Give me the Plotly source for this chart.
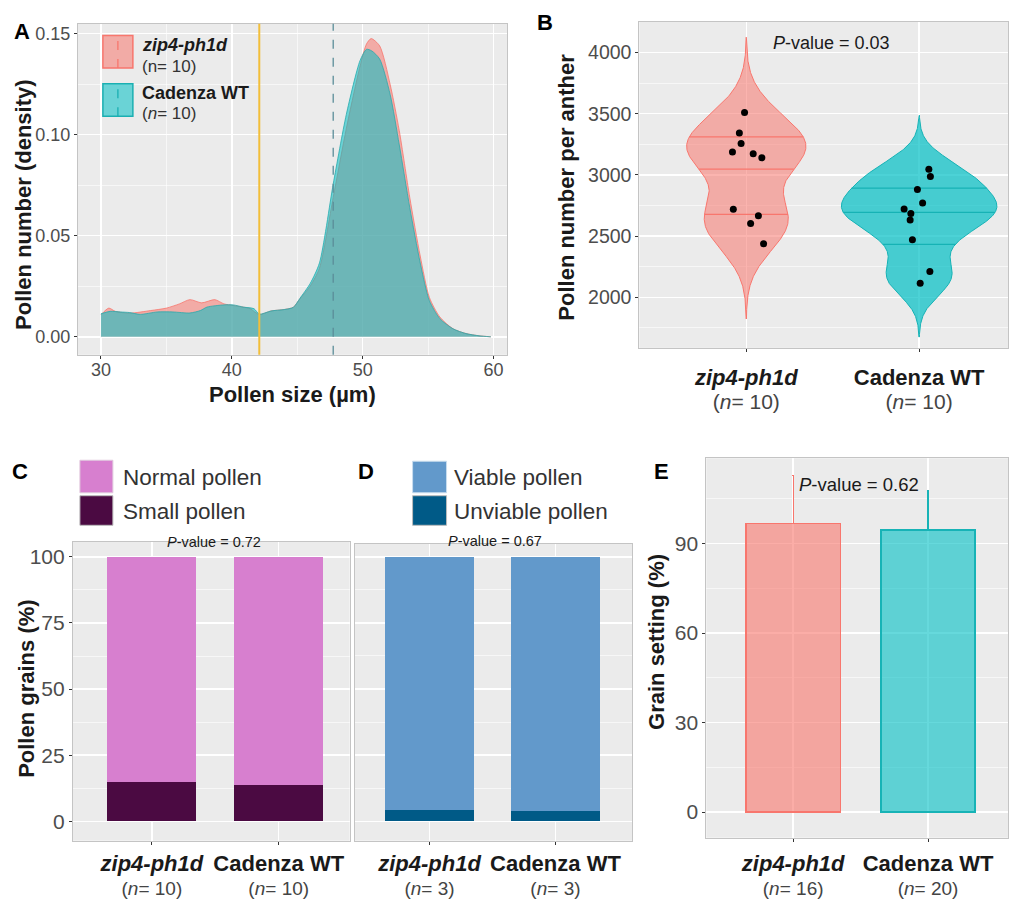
import numpy as np
import plotly.graph_objects as go

# ---------------- data ----------------
GROUPS = ["zip4-ph1d", "Cadenza WT"]

# Panel A: pollen size density curves
RED_X = [30.0, 30.6, 31.1, 32.2, 33.8, 35.0, 36.0, 36.8, 37.7, 38.7, 39.4, 40.1, 41.4, 42.1,
         43.0, 44.0, 44.7, 45.2, 46.0, 46.7, 47.75, 48.75, 49.8, 50.3, 50.65, 51.3, 52.1,
         52.8, 53.6, 54.4, 55.1, 55.9, 56.9, 57.9, 58.9, 59.8]
RED_Y = [0.0109, 0.0142, 0.0126, 0.0117, 0.0130, 0.0142, 0.0163, 0.0184, 0.0168, 0.0184,
         0.0163, 0.0155, 0.0139, 0.0110, 0.0128, 0.0135, 0.0146, 0.0187, 0.0252, 0.0340,
         0.0690, 0.1030, 0.1340, 0.1450, 0.1476, 0.1440, 0.1250, 0.1020, 0.0690, 0.0400,
         0.0195, 0.0098, 0.0040, 0.0016, 0.0005, 0.0]
CYAN_X = [30.0, 30.7, 31.5, 32.2, 33.0, 34.3, 35.5, 36.8, 37.6, 38.1, 39.4, 40.1, 40.9, 41.7,
          42.1, 43.0, 44.0, 44.7, 45.2, 46.0, 46.7, 47.75, 48.75, 49.8, 50.3, 50.7, 51.3,
          52.1, 52.8, 53.6, 54.4, 55.1, 55.9, 56.9, 57.9, 58.9, 59.8]
CYAN_Y = [0.0114, 0.0126, 0.0123, 0.0120, 0.0111, 0.0123, 0.0123, 0.0118, 0.0130, 0.0147,
          0.0158, 0.0158, 0.0147, 0.0139, 0.0112, 0.0128, 0.0135, 0.0146, 0.0190, 0.0265,
          0.0366, 0.0756, 0.1100, 0.1367, 0.1423, 0.1415, 0.1375, 0.1200, 0.0950, 0.0640,
          0.0366, 0.0179, 0.0090, 0.0040, 0.0016, 0.0005, 0.0]
SMALL_CUTOFF = 42.1
MEAN_SIZE = 47.75

# Panel B: pollen number per anther
ZIP4_COUNTS = [3511, 3342, 3256, 3187, 3173, 3141, 2720, 2666, 2604, 2438]
ZIP4_JITTER = [-0.01, -0.04, -0.03, -0.08, 0.04, 0.09, -0.075, 0.07, 0.025, 0.10]
CAD_COUNTS = [3047, 2988, 2881, 2771, 2722, 2685, 2631, 2470, 2212, 2116]
CAD_JITTER = [0.056, 0.065, -0.01, 0.02, -0.087, -0.048, -0.052, -0.039, 0.062, 0.006]
BANDWIDTHS = [205, 147]

# Panel C
SMALL_PCT = [14.9, 13.9]
NORMAL_PCT = [100 - v for v in SMALL_PCT]
# Panel D
UNVIABLE_PCT = [4.3, 3.7]
VIABLE_PCT = [100 - v for v in UNVIABLE_PCT]
# Panel E
GRAIN_MEAN = [96.8, 94.6]
GRAIN_SD = [16.1, 13.0]

N_B = [10, 10]
N_D = [3, 3]
N_E = [16, 20]

# ---------------- helpers ----------------
W, H = 1009, 899
FONT = "Liberation Sans, Arial, sans-serif"


def fx(p):
    return p / W


def fy(p):
    return 1 - p / H


RED = "#F8766D"
CYAN = "#00BFC4"
RED_FILL = "rgba(248,118,109,0.55)"
CYAN_FILL = "rgba(0,191,196,0.55)"

fig = go.Figure()

# ---------------- Panel A ----------------
fig.add_trace(go.Scatter(x=RED_X, y=RED_Y, mode="lines", fill="tozeroy", fillcolor=RED_FILL,
                         line=dict(color=RED, width=0.8, shape="spline", smoothing=0.7),
                         xaxis="x", yaxis="y", showlegend=False, hoverinfo="skip"))
fig.add_trace(go.Scatter(x=CYAN_X, y=CYAN_Y, mode="lines", fill="tozeroy", fillcolor=CYAN_FILL,
                         line=dict(color="#2AA9AC", width=0.8, shape="spline", smoothing=0.7),
                         xaxis="x", yaxis="y", showlegend=False, hoverinfo="skip"))
fig.add_shape(type="line", xref="x", yref="y domain", x0=SMALL_CUTOFF, x1=SMALL_CUTOFF, y0=0, y1=1,
              line=dict(color="#F2BE3A", width=2))
fig.add_shape(type="line", xref="x", yref="y domain", x0=MEAN_SIZE, x1=MEAN_SIZE, y0=0, y1=1,
              line=dict(color="#5B8D99", width=1.3, dash="dash"))


# ---------------- Panel B ----------------
def kde(vals, bw, n=512):
    v = np.asarray(vals, float)
    g = np.linspace(v.min() - 3 * bw, v.max() + 3 * bw, n)
    d = np.exp(-0.5 * ((g[:, None] - v[None, :]) / bw) ** 2).sum(1) / (len(v) * bw * np.sqrt(2 * np.pi))
    return g, d


dens = [kde(ZIP4_COUNTS, BANDWIDTHS[0]), kde(CAD_COUNTS, BANDWIDTHS[1])]
dmax = max(d.max() for _, d in dens)
fills = [RED_FILL, "rgba(0,191,196,0.7)"]
lines = [RED, "#16B2B5"]
for i, (g, d) in enumerate(dens):
    pos = i + 1
    half = d / dmax * 0.45
    fig.add_trace(go.Scatter(x=np.concatenate([pos - half, (pos + half)[::-1]]),
                             y=np.concatenate([g, g[::-1]]), mode="lines", fill="toself",
                             fillcolor=fills[i], line=dict(color=lines[i], width=1),
                             xaxis="x2", yaxis="y2", showlegend=False, hoverinfo="skip"))
    cdf = np.cumsum(d) / d.sum()
    for q in (0.25, 0.5, 0.75):
        yq = np.interp(q, cdf, g)
        wq = np.interp(yq, g, half)
        fig.add_trace(go.Scatter(x=[pos - wq, pos + wq], y=[yq, yq], mode="lines",
                                 line=dict(color=lines[i], width=1.3),
                                 xaxis="x2", yaxis="y2", showlegend=False, hoverinfo="skip"))

for i, (vals, jit) in enumerate([(ZIP4_COUNTS, ZIP4_JITTER), (CAD_COUNTS, CAD_JITTER)]):
    fig.add_trace(go.Scatter(x=[i + 1 + j for j in jit], y=vals, mode="markers",
                             marker=dict(color="black", size=7),
                             xaxis="x2", yaxis="y2", showlegend=False, hoverinfo="skip"))

# ---------------- Panel C ----------------
fig.add_trace(go.Bar(x=[1, 2], y=SMALL_PCT, width=0.7, marker=dict(color="#4B0A42", line=dict(width=0)),
                     xaxis="x3", yaxis="y3", showlegend=False))
fig.add_trace(go.Bar(x=[1, 2], y=NORMAL_PCT, width=0.7, marker=dict(color="#D77FCF", line=dict(width=0)),
                     xaxis="x3", yaxis="y3", showlegend=False))
# ---------------- Panel D ----------------
fig.add_trace(go.Bar(x=[1, 2], y=UNVIABLE_PCT, width=0.7, marker=dict(color="#005A87", line=dict(width=0)),
                     xaxis="x4", yaxis="y4", showlegend=False))
fig.add_trace(go.Bar(x=[1, 2], y=VIABLE_PCT, width=0.7, marker=dict(color="#6299CB", line=dict(width=0)),
                     xaxis="x4", yaxis="y4", showlegend=False))
# ---------------- Panel E ----------------
e_fill = ["rgba(248,118,109,0.6)", "rgba(0,191,196,0.6)"]
e_line = [RED, "#17B3B6"]
for i in range(2):
    fig.add_trace(go.Bar(x=[i + 1], y=[GRAIN_MEAN[i]], width=0.7,
                         marker=dict(color=e_fill[i], line=dict(color=e_line[i], width=1.5)),
                         error_y=dict(type="data", symmetric=False, array=[GRAIN_SD[i]], arrayminus=[0],
                                      color=e_line[i], thickness=1.3, width=1),
                         xaxis="x5", yaxis="y5", showlegend=False))

fig.update_layout(barmode="stack")


# ---------------- axes ----------------
def base_axis(size, **kw):
    d = dict(showgrid=True, gridcolor="white", gridwidth=1.4, showline=True, linecolor="#C4C4C4",
             linewidth=1, mirror=True, ticks="outside", ticklen=3, tickwidth=1, tickcolor="#333333",
             zeroline=False, tickfont=dict(family=FONT, size=size, color="#4D4D4D"), fixedrange=True)
    d.update(kw)
    return d


def minor(dt):
    return dict(showgrid=True, gridcolor="white", gridwidth=0.6, dtick=dt, ticks="")


def cat_text(ns, big, small):
    out = []
    for g, n in zip(GROUPS, ns):
        first = f"<i>{g}</i>" if g.startswith("zip4") else g
        out.append(f"<span style='font-size:{big}px'><b>{first}</b></span><br>"
                   f"<span style='font-size:{small}px;color:#444444'>(<i>n</i>= {n})</span>")
    return out


layout_axes = dict(
    xaxis=base_axis(18, domain=[fx(78), fx(508)], range=[28.24, 61.07], dtick=10, minor=minor(5),
                    anchor="y", ticklabelstandoff=-4),
    yaxis=base_axis(18, domain=[fy(360), fy(24)], range=[-0.0089, 0.155], dtick=0.05, tickformat=".2f",
                    minor=minor(0.025), anchor="x"),
    xaxis2=base_axis(19, domain=[fx(640), 1.0], range=[0.3815, 2.514], tickvals=[1, 2],
                     ticktext=cat_text(N_B, 22, 21), anchor="y2", ticklabelstandoff=10),
    yaxis2=base_axis(19.5, domain=[fy(353), fy(22)], range=[1587, 4252], dtick=500, minor=minor(250),
                     anchor="x2"),
    xaxis3=base_axis(18.5, domain=[fx(73), fx(350)], range=[0.378, 2.559], tickvals=[1, 2],
                     ticktext=cat_text(N_B, 22, 19), anchor="y3", ticklabelstandoff=4),
    yaxis3=base_axis(21, domain=[fy(853), fy(550)], range=[-7.34, 105.6], dtick=25, minor=minor(12.5),
                     anchor="x3"),
    xaxis4=base_axis(18.5, domain=[fx(355), fx(633)], range=[0.405, 2.611], tickvals=[1, 2],
                     ticktext=cat_text(N_D, 22, 19), anchor="y4", ticklabelstandoff=4),
    yaxis4=base_axis(21, domain=[fy(853), fy(552)], range=[-7.34, 104.85], dtick=25, minor=minor(12.5),
                     anchor="x4", showticklabels=False, ticks=""),
    xaxis5=base_axis(18.5, domain=[fx(707), 1.0], range=[0.356, 2.593], tickvals=[1, 2],
                     ticktext=cat_text(N_E, 22, 19), anchor="y5", ticklabelstandoff=7),
    yaxis5=base_axis(21, domain=[fy(850), fy(465)], range=[-8.6, 118.6], dtick=30, minor=minor(15),
                     anchor="x5"),
)
for k in ["xaxis2", "xaxis3", "xaxis4", "xaxis5"]:
    layout_axes[k]["tickfont"]["color"] = "#1A1A1A"
fig.update_layout(**layout_axes)

# ---------------- annotations ----------------
ann = []


def text(x, y, s, size, bold=False, color="#1A1A1A", angle=0, xanchor="center"):
    ann.append(dict(x=fx(x), y=fy(y), xref="paper", yref="paper", text=f"<b>{s}</b>" if bold else s,
                    showarrow=False, textangle=angle, xanchor=xanchor, yanchor="middle",
                    font=dict(family=FONT, size=size, color=color)))


# panel letters
for L, x, y in [("A", 22, 32), ("B", 546, 23), ("C", 20, 478), ("D", 366, 478), ("E", 662, 478)]:
    text(x, y, L, 22, bold=True, color="#000000")

# axis titles
text(23, 207, "Pollen number (density)", 22, bold=True, angle=-90)
text(293, 400, "Pollen size (µm)", 22, bold=True)
text(567, 190, "Pollen number per anther", 22, bold=True, angle=-90)
text(27, 699, "Pollen grains (%)", 22, bold=True, angle=-90)
text(657, 651, "Grain setting (%)", 22, bold=True, angle=-90)

# p-values
text(832, 44, "<i>P</i>-value = 0.03", 18)
text(214, 550, "<i>P</i>-value = 0.72", 14.5)
text(495, 549, "<i>P</i>-value = 0.67", 14.5)
text(860, 492, "<i>P</i>-value = 0.62", 18.5)

# legend A
text(140, 46, "<i>zip4-ph1d</i>", 18, bold=True, xanchor="left")
text(140, 67, "(n= 10)", 17, color="#333333", xanchor="left")
text(140, 94, "Cadenza WT", 18, bold=True, xanchor="left")
text(140, 115, "(<i>n</i>= 10)", 17, color="#333333", xanchor="left")
# legend C
text(121, 484, "Normal pollen", 22.5, color="#333333", xanchor="left")
text(121, 519, "Small pollen", 22.5, color="#333333", xanchor="left")
# legend D
text(452, 484, "Viable pollen", 22.5, color="#333333", xanchor="left")
text(452, 519, "Unviable pollen", 22.5, color="#333333", xanchor="left")

fig.update_layout(annotations=ann)

# legend keys (shapes in paper coords)
shapes = list(fig.layout.shapes)


def key(x0, y0, x1, y1, fill, line, lw=1.2):
    shapes.append(dict(type="rect", xref="paper", yref="paper", x0=fx(x0), x1=fx(x1), y0=fy(y1), y1=fy(y0),
                       fillcolor=fill, line=dict(color=line, width=lw)))


key(103, 36, 133, 69, RED_FILL, RED, 1.5)
key(103, 85, 133, 118, CYAN_FILL, "#1AAFB2", 1.5)
for (y0, y1, c) in [(36, 69, RED), (85, 118, "#1AAFB2")]:
    shapes.append(dict(type="line", xref="paper", yref="paper", x0=fx(118), x1=fx(118), y0=fy(y1), y1=fy(y0),
                       line=dict(color=c, width=1.3, dash="dash")))
key(80, 467, 113, 500, "#D77FCF", "#E0C8DD", 1)
key(80, 503, 113, 533, "#4B0A42", "#BBBBBB", 1)
key(413, 468, 447, 500, "#6299CB", "#C9DDEE", 1)
key(413, 503, 447, 533, "#005A87", "#BBBBBB", 1)
fig.update_layout(shapes=shapes)

fig.update_layout(width=W, height=H, autosize=False, margin=dict(l=0, r=0, t=0, b=0),
                  plot_bgcolor="#EBEBEB", paper_bgcolor="white", showlegend=False,
                  font=dict(family=FONT))

fig.write_html("out.html", config={"displayModeBar": False, "staticPlot": True},
               post_script="document.body.style.margin='0';document.body.style.overflow='hidden';")
